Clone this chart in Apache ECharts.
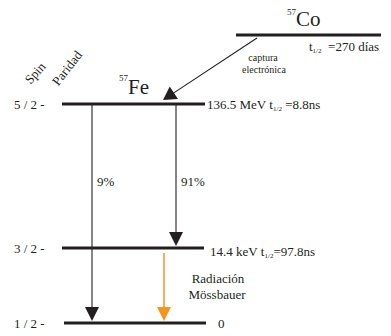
<!DOCTYPE html>
<html>
<head>
<meta charset="utf-8">
<script src="https://cdn.jsdelivr.net/npm/echarts@6/dist/echarts.min.js"></script>
<style>
  html, body { margin: 0; padding: 0; background: #ffffff; }
  #chart { width: 391px; height: 336px; }
</style>
</head>
<body>
<div id="chart"></div>
<script>
// Decay scheme of 57Co -> 57Fe. The diagram lives on a schematic plane
// (x: 0..391 across, y: 0..336 downwards) mapped through hidden value axes.

// 57Fe nuclear levels (top to bottom)
const levelSpins = ['5 / 2 -', '3 / 2 -', '1 / 2 -'];
const levelEnergies = ['136.5 MeV', '14.4 keV', '0'];
const levelHalfLives = ['8.8ns', '97.8ns', ''];
const levelRows = [104, 248, 323];          // schematic height of each level
const levelFrom = [62, 62, 64];
const levelTo = [205, 204, 206];

// Parent nucleus 57Co
const parentName = 'Co';
const parentMass = '57';
const parentHalfLife = '270 días';
const parentRow = 35;
const parentFrom = 236;
const parentTo = 381;

// Daughter nucleus
const daughterName = 'Fe';
const daughterMass = '57';

// Gamma transitions between levels (indices into the level arrays)
const transFrom = [0, 0, 1];
const transTo = [2, 1, 2];
const transColumn = [92, 176, 164];
const transBranch = ['9%', '91%', ''];
const transKind = ['gamma', 'gamma', 'mossbauer'];

// Electron capture from the parent level onto the 5/2 level
const captureStart = [257, 38];
const captureEnd = [163, 100];
const captureText = ['captura', 'electrónica'];
const mossbauerText = ['Radiación', 'Mössbauer'];
const axisHeader = ['Spin', 'Paridad'];

const INK = '#231f20';
const ORANGE = '#f7941d';
const SERIF = 'Liberation Serif';

// ---------- level bars ----------
const levelData = levelRows.map((r, i) => [levelFrom[i], levelTo[i], r]);
levelData.push([parentFrom, parentTo, parentRow]);

// ---------- arrows ----------
const arrowData = [];
transFrom.forEach((f, i) => {
  const x = transColumn[i];
  const startY = transKind[i] === 'mossbauer' ? levelRows[f] + 5 : levelRows[f];
  arrowData.push([x, startY, x, levelRows[transTo[i]] - 2, transKind[i] === 'mossbauer' ? 1 : 0]);
});
arrowData.push([captureStart[0], captureStart[1], captureEnd[0], captureEnd[1], 2]);

// ---------- texts ----------
// rich styles: body text, subscripts and the nuclide symbols
const richStyles = {
  n: { fontFamily: SERIF, fontSize: 13, lineHeight: 16, color: INK },
  sm: { fontFamily: SERIF, fontSize: 10, lineHeight: 12, color: INK },
  m: { fontFamily: SERIF, fontSize: 9, lineHeight: 10, color: INK },
  big: { fontFamily: SERIF, fontSize: 21, lineHeight: 24, color: INK },
  s: { fontFamily: SERIF, fontSize: 7, lineHeight: 7, verticalAlign: 'bottom', color: INK }
};
// each entry: [x, y, text-index]; align/rotation looked up per index
const texts = [];
const textStyles = [];
function addText(x, y, content, style) {
  texts.push([x, y, texts.length]);
  textStyles.push(Object.assign({ text: content }, style));
}
const wrap = (key, s) => '{' + key + '|' + s + '}';

levelRows.forEach((r, i) => {
  addText(14, r, wrap('n', levelSpins[i]), { align: 'left' });
  const label = levelHalfLives[i]
    ? wrap('n', levelEnergies[i] + ' t') + wrap('s', '1/2') + wrap('n', (i === 0 ? ' =' : '=') + levelHalfLives[i])
    : wrap('n', levelEnergies[i]);
  addText(levelTo[i] + (i === 0 ? 2 : (i === 1 ? 6 : 12)), r + (i === 1 ? 3 : 0), label, { align: 'left' });
});
addText(296, 12, wrap('m', parentMass), { align: 'right' });
addText(296, 19, wrap('big', parentName), { align: 'left' });
addText(309, 46, wrap('n', 't') + wrap('s', '1/2') + wrap('n', '  =' + parentHalfLife), { align: 'left' });
addText(263, 57, wrap('sm', captureText[0]), { align: 'center' });
addText(264, 69, wrap('sm', captureText[1]), { align: 'center' });
addText(128, 78, wrap('m', daughterMass), { align: 'right' });
addText(128, 87, wrap('big', daughterName), { align: 'left' });
transBranch.forEach((b, i) => {
  if (b) addText(transColumn[i] + 5, 181, wrap('n', b), { align: 'left' });
});
addText(218, 278, wrap('n', mossbauerText[0]), { align: 'center' });
addText(217, 294, wrap('n', mossbauerText[1]), { align: 'center' });
addText(35, 73, wrap('n', axisHeader[0]), { align: 'center', rotation: 48 });
addText(67, 68, wrap('n', axisHeader[1]), { align: 'center', rotation: 52 });

const chart = echarts.init(document.getElementById('chart'), null, { renderer: 'svg' });

chart.setOption({
  animation: false,
  backgroundColor: '#ffffff',
  textStyle: { fontFamily: SERIF },
  grid: { left: 0, right: 0, top: 0, bottom: 0 },
  xAxis: { type: 'value', min: 0, max: 391, show: false },
  yAxis: { type: 'value', min: 0, max: 336, inverse: true, show: false },
  series: [
    {
      name: 'levels',
      type: 'custom',
      coordinateSystem: 'cartesian2d',
      data: levelData,
      encode: { x: [0, 1], y: 2 },
      renderItem: function (params, api) {
        const a = api.coord([api.value(0), api.value(2)]);
        const b = api.coord([api.value(1), api.value(2)]);
        return {
          type: 'line',
          shape: { x1: a[0], y1: a[1], x2: b[0], y2: b[1] },
          style: { stroke: INK, lineWidth: 3 }
        };
      }
    },
    {
      name: 'transitions',
      type: 'custom',
      coordinateSystem: 'cartesian2d',
      data: arrowData,
      encode: { x: [0, 2], y: [1, 3] },
      renderItem: function (params, api) {
        const p1 = api.coord([api.value(0), api.value(1)]);
        const p2 = api.coord([api.value(2), api.value(3)]);
        const kind = api.value(4);
        const color = kind === 1 ? ORANGE : INK;
        const headLen = kind === 2 ? 13 : 14;
        const headHalf = kind === 2 ? 7.5 : 7;
        const dx = p2[0] - p1[0], dy = p2[1] - p1[1];
        const len = Math.sqrt(dx * dx + dy * dy);
        const ux = dx / len, uy = dy / len;
        const bx = p2[0] - ux * headLen, by = p2[1] - uy * headLen;
        const px = -uy * headHalf, py = ux * headHalf;
        return {
          type: 'group',
          children: [
            {
              type: 'line',
              shape: { x1: p1[0], y1: p1[1], x2: bx + ux, y2: by + uy },
              style: { stroke: color, lineWidth: kind === 1 ? 1.5 : 1.1 }
            },
            {
              type: 'polygon',
              shape: { points: [[p2[0], p2[1]], [bx + px, by + py], [bx - px, by - py]] },
              style: { fill: color }
            }
          ]
        };
      }
    },
    {
      name: 'labels',
      type: 'custom',
      coordinateSystem: 'cartesian2d',
      data: texts,
      encode: { x: 0, y: 1 },
      renderItem: function (params, api) {
        const p = api.coord([api.value(0), api.value(1)]);
        const st = textStyles[api.value(2)];
        return {
          type: 'text',
          x: p[0],
          y: p[1],
          rotation: st.rotation ? st.rotation * Math.PI / 180 : 0,
          style: {
            text: st.text,
            fontFamily: SERIF,
            fill: INK,
            align: st.align,
            verticalAlign: 'middle',
            rich: richStyles
          }
        };
      }
    }
  ]
});
</script>
</body>
</html>
